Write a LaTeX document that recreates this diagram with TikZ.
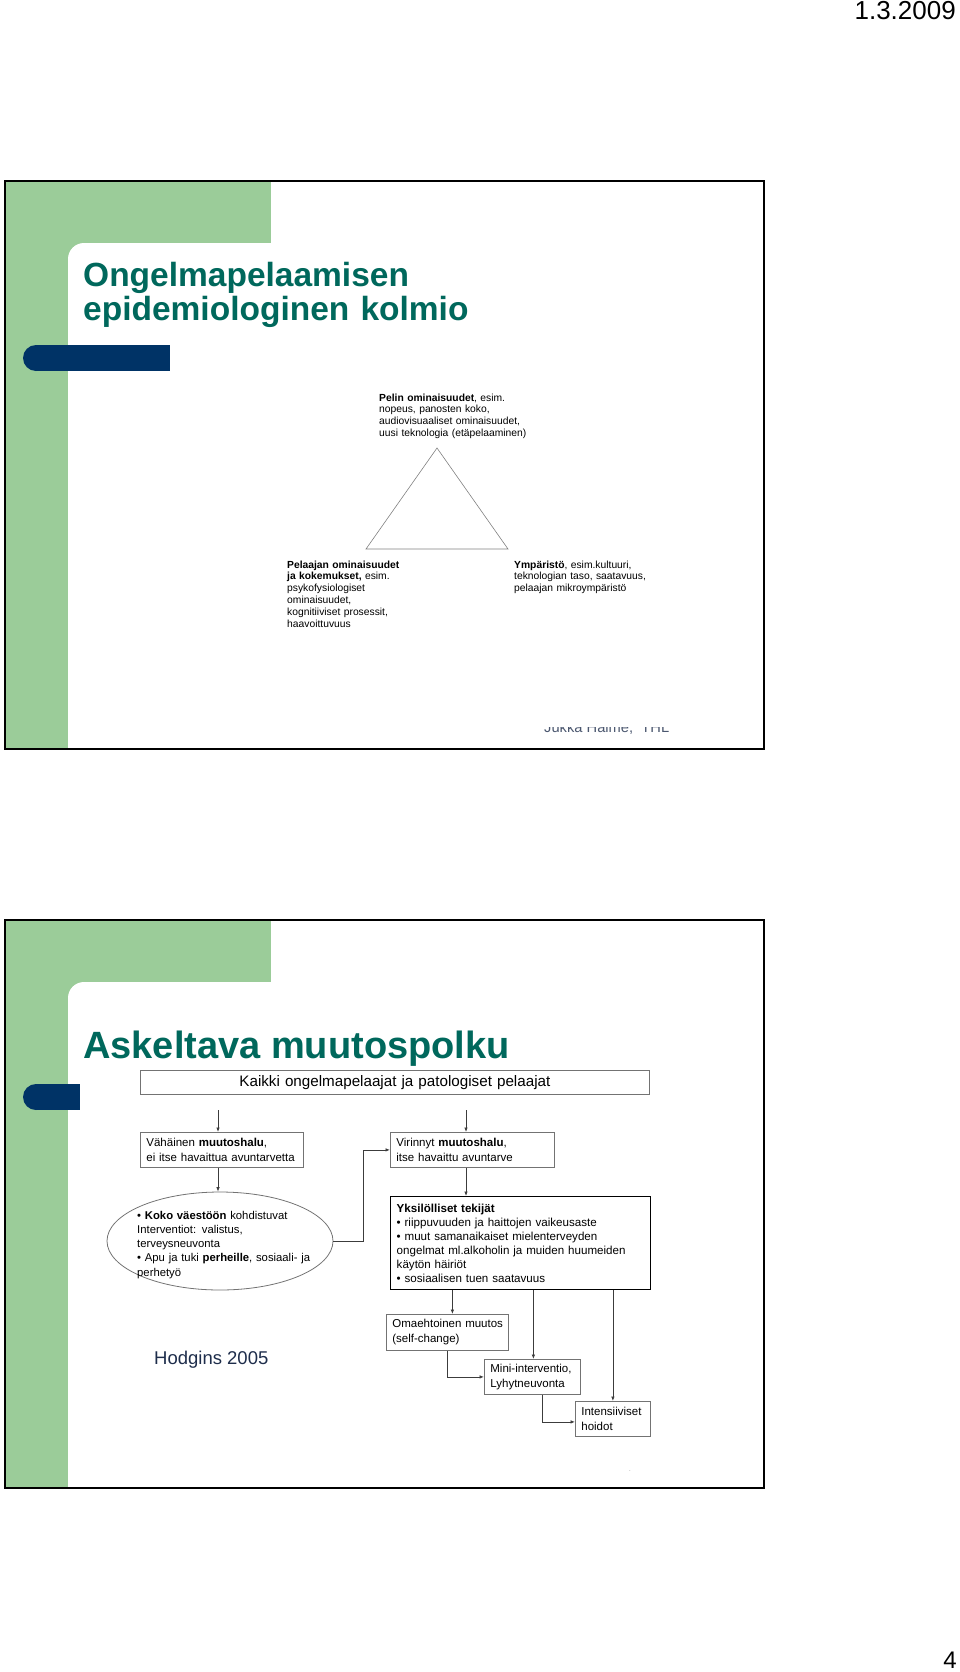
\documentclass[tikz,border=0pt]{standalone}
\usepackage{fontspec}
\setmainfont{Liberation Sans}
\usetikzlibrary{positioning,arrows.meta,calc,shapes.geometric}

\definecolor{slidegreen}{RGB}{155,204,153}
\definecolor{titleteal}{RGB}{0,104,92}
\definecolor{barblue}{RGB}{0,51,102}
\definecolor{srcnavy}{RGB}{30,45,75}
\definecolor{boxgray}{RGB}{115,115,115}
\definecolor{linegray}{RGB}{60,60,60}

% slide background: #1 top edge, #2 right end of the blue bar
\newcommand{\slideframe}[2]{%
  \fill[slidegreen] (5,#1) rectangle (271,{#1+78});
  \fill[slidegreen] (5,#1) rectangle (68,{#1+568});
  \fill[white,rounded corners=16] (68,{#1+62}) rectangle (330,{#1+130});
  \fill[barblue] (36,{#1+164}) rectangle (#2,{#1+190});
  \fill[barblue] (36,{#1+177}) circle[radius=13];
  \draw[line width=2.2pt] (5,#1) rectangle (764,{#1+568});
}

\begin{document}
\begin{tikzpicture}[>=Latex,x=1pt,y=-1pt,
  txt/.style={inner sep=0pt,anchor=base west,align=left,font=\fontsize{10.3}{11.8}\selectfont},
  ttl/.style={inner sep=0pt,anchor=base west,align=left,text=titleteal},
  box/.style={draw=boxgray,line width=0.8pt,anchor=north west,inner xsep=6pt,inner ysep=0pt,
    align=left,font=\fontsize{11.5}{15}\selectfont},
  arr/.style={draw=linegray,line width=0.7pt,-{Latex[length=4.5pt,width=3.5pt]}}]
  \useasboundingbox (0,0) rectangle (960,1672);

  \node[inner sep=0pt,anchor=base east,font=\fontsize{26}{30}\selectfont] (date) at (956,20) {1.3.2009};
  \node[inner sep=0pt,anchor=base east,font=\fontsize{24}{28}\selectfont] (page) at (957,1668) {4};

  \begin{scope}
    \slideframe{181}{170}
    \node[ttl,text width=420,font=\bfseries\fontsize{33.5}{34}\selectfont] (title1) at (83,286)
      {Ongelmapelaamisen\\epidemiologinen kolmio};
    \coordinate (apex) at (437,448);
    \coordinate (lft) at (366,549);
    \coordinate (rgt) at (508,549);
    \draw[gray,line width=0.6pt] (apex) -- (lft) -- (rgt) -- cycle;
    \node[txt,text width=170] (game) at (379,401)
      {\textbf{Pelin ominaisuudet}, esim.\\nopeus, panosten koko,\\audiovisuaaliset ominaisuudet,\\uusi teknologia (etäpelaaminen)};
    \node[txt,text width=140] (player) at (287,568)
      {\textbf{Pelaajan ominaisuudet}\\\textbf{ja kokemukset,} esim.\\psykofysiologiset\\ominaisuudet,\\kognitiiviset prosessit,\\haavoittuvuus};
    \node[txt,text width=150] (env) at (514,568)
      {\textbf{Ympäristö}, esim.kultuuri,\\teknologian taso, saatavuus,\\pelaajan mikroympäristö};
    \begin{scope}
      \clip (500,727) rectangle (700,745);
      \node[inner sep=0pt,anchor=base west,text=srcnavy!80,font=\fontsize{14.7}{17}\selectfont] (author) at (544,732)
        {Jukka Halme,\ \ THL};
    \end{scope}
  \end{scope}

  \begin{scope}
    \slideframe{920}{80}
    \node[ttl,font=\bfseries\fontsize{38}{40}\selectfont] (title2) at (83,1058) {Askeltava muutospolku};
    \node[box,minimum width=509,minimum height=24,text width=497,align=center,
      font=\fontsize{15.2}{17}\selectfont] (all) at (140,1070) {Kaikki ongelmapelaajat ja patologiset pelaajat};
    \node[box,minimum width=163,minimum height=35,text width=151] (low) at (140,1132)
      {Vähäinen \textbf{muutoshalu},\\ei itse havaittua avuntarvetta};
    \node[box,minimum width=164,minimum height=35,text width=152] (rise) at (390,1132)
      {Virinnyt \textbf{muutoshalu},\\itse havaittu avuntarve};
    \node[box,draw=black,line width=1.4pt,minimum width=260,minimum height=93,text width=248,
      font=\fontsize{11.6}{14}\selectfont] (indiv) at (390,1196)
      {\textbf{Yksilölliset tekijät}\\\textbullet\ riippuvuuden ja haittojen vaikeusaste\\\textbullet\ muut samanaikaiset mielenterveyden\\ongelmat ml.alkoholin ja muiden huumeiden\\käytön häiriöt\\\textbullet\ sosiaalisen tuen saatavuus};
    \node[box,minimum width=122,minimum height=36,text width=110] (self) at (386,1314)
      {\mbox{Omaehtoinen muutos}\\(self-change)};
    \node[box,minimum width=96,minimum height=35,text width=84] (mini) at (484,1359)
      {\mbox{Mini-interventio,}\\Lyhytneuvonta};
    \node[box,minimum width=75,minimum height=35,text width=63] (intens) at (575,1401)
      {\mbox{Intensiiviset}\\hoidot};
    \node[ellipse,draw=boxgray,line width=0.8pt,minimum width=226,minimum height=98,inner sep=0pt] (pop) at (220,1241) {};
    \node[txt,text width=185,font=\fontsize{11.3}{14.25}\selectfont] (poptext) at (137,1219)
      {\textbullet\ \textbf{Koko väestöön} kohdistuvat\\Interventiot: valistus,\\terveysneuvonta\\\textbullet\ Apu ja tuki \textbf{perheille}, sosiaali-~ja\\perhetyö};

    \coordinate (inA) at (218,1110);
    \coordinate (inB) at (466,1110);
    \coordinate (jog) at ([xshift=-27]rise.west);
    \coordinate (toSelf) at ([xshift=5]self.north);
    \coordinate (toMini) at ([xshift=1]mini.north);
    \draw[arr] (inA) -- (inA |- low.north);
    \draw[arr] (inB) -- (inB |- rise.north);
    \draw[arr] (inA |- low.south) -- (inA |- pop.north);
    \draw[arr] (pop.east) -- (pop.east -| jog) |- (rise.west);
    \draw[arr] (inB |- rise.south) -- (inB |- indiv.north);
    \draw[arr] (toSelf |- indiv.south) -- (toSelf);
    \draw[arr] (toMini |- indiv.south) -- (toMini);
    \draw[arr] (intens.north |- indiv.south) -- (intens.north);
    \draw[arr] (self.south) |- (mini.west);
    \draw[arr] ([xshift=10]mini.south) |- ([yshift=-3]intens.west);

    \node[inner sep=0pt,anchor=base west,text=srcnavy,font=\fontsize{18.5}{20}\selectfont] (src) at (154,1364) {Hodgins 2005};
    \node[inner sep=0pt,text=gray,font=\fontsize{6}{6}\selectfont] (dot) at (630,1471) {.};
  \end{scope}
\end{tikzpicture}
\end{document}
